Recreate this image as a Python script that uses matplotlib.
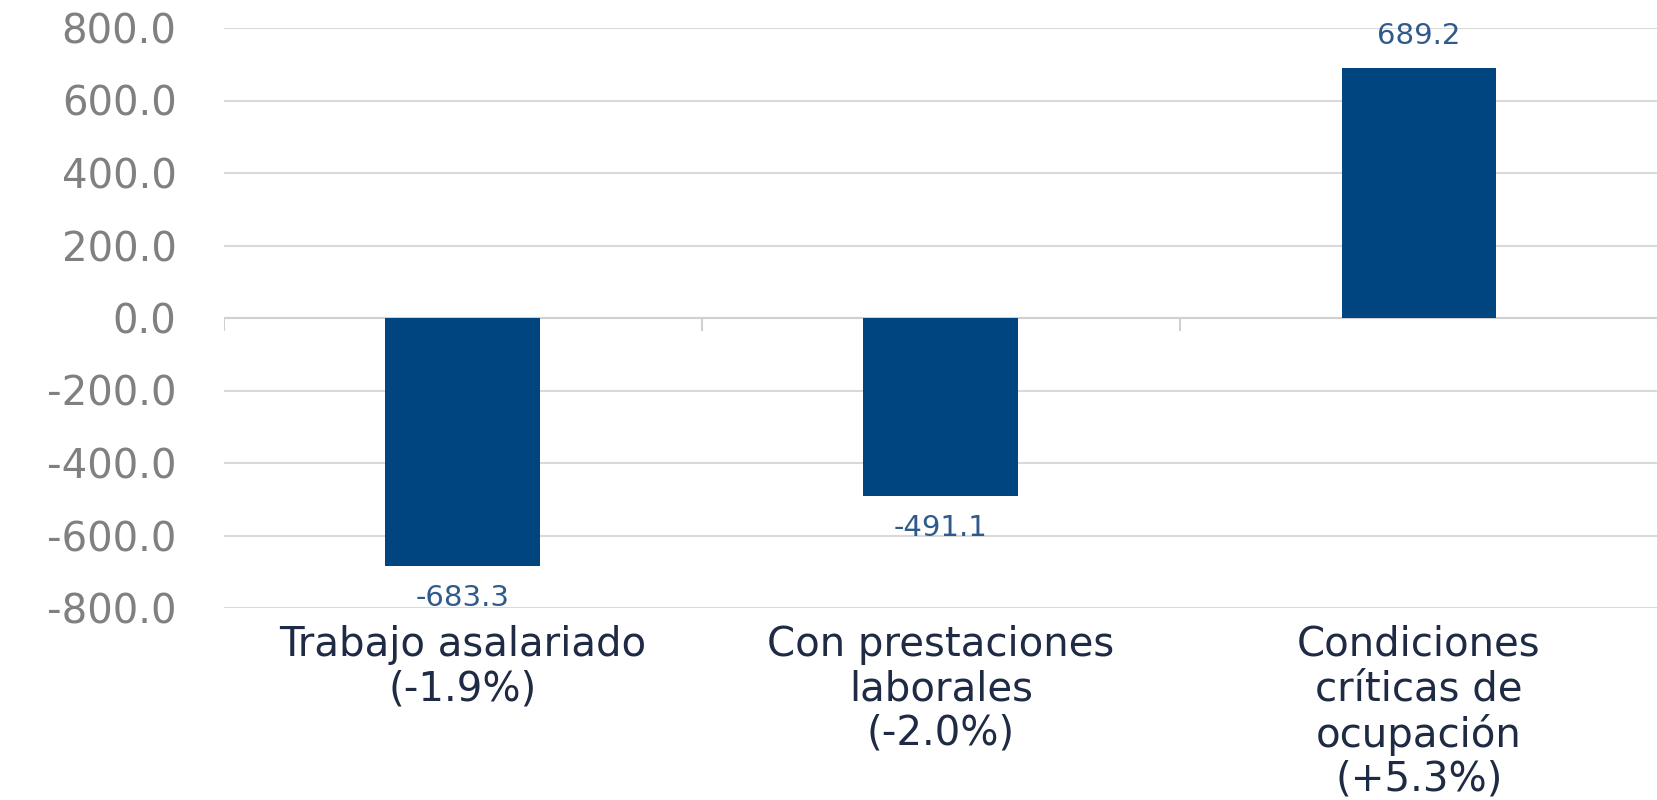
import matplotlib.pyplot as plt
import numpy as np

# datos
categorias = ["Trabajo asalariado\n(-1.9%)",
              "Con prestaciones\nlaborales\n(-2.0%)",
              "Condiciones\ncríticas de\nocupación\n(+5.3%)"]
valores = [-683.3, -491.1, 689.2]
yticks = [-800, -600, -400, -200, 0, 200, 400, 600, 800]

plt.rcParams['font.family'] = ['DejaVu Sans']

fig = plt.figure(figsize=(16.58, 8), dpi=100)
ax = fig.add_axes([0.135, 0.24, 0.865, 0.725])

x = np.arange(len(categorias))
bars = ax.bar(x, valores, width=0.324, color='#00457f', zorder=3)
ax.bar_label(bars, labels=['%.1f' % v for v in valores], padding=13,
             fontsize=21, color='#2f5b8c')

ax.set_xlim(-0.5, len(categorias) - 0.5)
ax.set_ylim(-800, 800)
ax.set_yticks(yticks)
ax.set_yticklabels(['%.1f' % t for t in yticks], fontsize=29, color='#808080')
ax.tick_params(axis='y', length=0, pad=34)
ax.grid(axis='y', color='#d9d9d9', linewidth=1.5, zorder=0)

# eje en cero con marcas entre categorias
ax.axhline(0, color='#d0d0d0', linewidth=1.5, zorder=2)
ax.vlines(np.arange(len(categorias) + 1) - 0.5, -35, 0, color='#d0d0d0', linewidth=1.5, zorder=2)

ax.set_xticks(x)
ax.set_xticklabels(categorias, fontsize=29, color='#1f2a44', linespacing=1.14)
ax.tick_params(axis='x', length=0, pad=12)

for s in ax.spines.values():
    s.set_visible(False)

plt.savefig('out.png', dpi=100)
